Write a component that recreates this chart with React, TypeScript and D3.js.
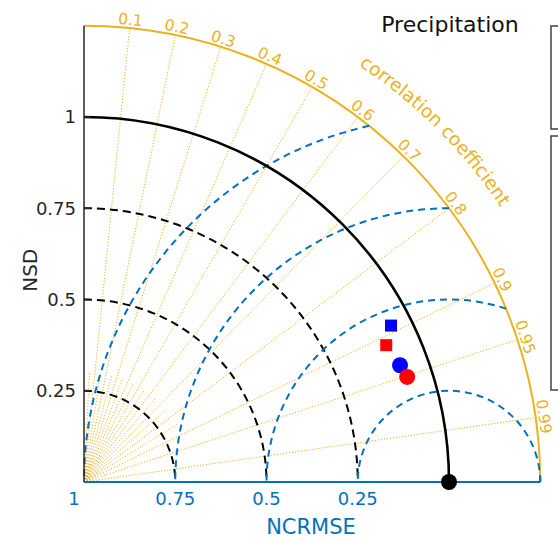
import React from "react";
import * as d3 from "d3";

// ---------- data ----------
const title = "Precipitation";
const corrMajor = [0.1, 0.2, 0.3, 0.4, 0.5, 0.6, 0.7, 0.8, 0.9, 0.95, 0.99];
const corrLabels = ["0.1", "0.2", "0.3", "0.4", "0.5", "0.6", "0.7", "0.8", "0.9", "0.95", "0.99"];
const corrMinor = [0.05, 0.15, 0.25, 0.35, 0.45, 0.55, 0.65, 0.75, 0.85];
const sdTicks = [0.25, 0.5, 0.75, 1];
const sdTickLabels = ["0.25", "0.5", "0.75", "1"];
const sdDashedArcs = [0.25, 0.5, 0.75];
const refSD = 1;
const sdMax = 1.25;
const rmseCircles = [0.25, 0.5, 0.75, 1];
const rmseTickLabels = ["0.25", "0.5", "0.75", "1"];
const seriesNames = ["Model A (square)", "Model B (square)", "Model A (circle)", "Model B (circle)"];
const seriesSD = [0.944, 0.909, 0.923, 0.931];
const seriesCorr = [0.891, 0.911, 0.938, 0.951];
const seriesShape = ["square", "square", "circle", "circle"];
const seriesColor = ["#0000ff", "#ff0000", "#0000ff", "#ff0000"];

// ---------- layout ----------
const W = 558, H = 542;
const X0 = 84, Y0 = 482;
const ORANGE = "#EDB120";
const BLUE = "#0072BD";
const DARK = "#262626";
const FONT = "'DejaVu Sans', Verdana, sans-serif";

const r = d3.scaleLinear().domain([0, sdMax]).range([0, 456.25]);
const pt = (sd: number, c: number): [number, number] => [
  X0 + r(sd) * c,
  Y0 - r(sd) * Math.sqrt(1 - c * c),
];

const quarterArc = (sd: number) => {
  const p = d3.path();
  p.moveTo(X0, Y0 - r(sd));
  p.arc(X0, Y0, r(sd), -Math.PI / 2, 0, false);
  return p.toString();
};

const rmseArc = (R: number) => {
  const cx = X0 + r(refSD);
  const cosMin = Math.max(-1, Math.min(1, (sdMax * sdMax - refSD * refSD - R * R) / (2 * R * refSD)));
  const phiMin = Math.acos(cosMin);
  const rr = r(R);
  const p = d3.path();
  p.moveTo(cx + rr * Math.cos(phiMin), Y0 - rr * Math.sin(phiMin));
  p.arc(cx, Y0, rr, -phiMin, -Math.PI, true);
  return p.toString();
};

const labelPath = (() => {
  const Rt = 499;
  const a0 = (80 * Math.PI) / 180, a1 = (10 * Math.PI) / 180;
  const p = d3.path();
  p.moveTo(X0 + Rt * Math.cos(a0), Y0 - Rt * Math.sin(a0));
  p.arc(X0, Y0, Rt, -a0, -a1, false);
  return p.toString();
})();

export default function App() {
  const rOut = r(sdMax);
  return (
    <svg
      width={W}
      height={H}
      viewBox={`0 0 ${W} ${H}`}
      style={{ position: "absolute", left: 0, top: 0, background: "#fff" }}
      fontFamily={FONT}
    >
      {/* minor correlation lines */}
      {corrMinor.map((c) => {
        const [x, y] = pt(0.3, c);
        return (
          <line key={"mn" + c} x1={X0} y1={Y0} x2={x} y2={y} stroke={ORANGE} strokeWidth={0.9} strokeDasharray="1.2,1.8" />
        );
      })}
      {/* major correlation lines */}
      {corrMajor.map((c) => {
        const [x, y] = pt(sdMax, c);
        return (
          <line key={"mj" + c} x1={X0} y1={Y0} x2={x} y2={y} stroke={ORANGE} strokeWidth={1} strokeDasharray="1.2,1.8" />
        );
      })}
      {/* outer arc */}
      <path d={quarterArc(sdMax)} fill="none" stroke={ORANGE} strokeWidth={2} />
      {/* correlation labels */}
      {corrMajor.map((c, i) => {
        const th = Math.acos(c);
        const rr = rOut + 3;
        const x = X0 + rr * Math.cos(th);
        const y = Y0 - rr * Math.sin(th);
        const rot = 90 - (th * 180) / Math.PI;
        return (
          <text key={"cl" + c} transform={`translate(${x},${y}) rotate(${rot})`} textAnchor="middle" fontSize={15.5} fill={ORANGE}>
            {corrLabels[i]}
          </text>
        );
      })}
      <path id="corrLabelPath" d={labelPath} fill="none" stroke="none" />
      <text fontSize={18.5} fill={ORANGE}>
        <textPath href="#corrLabelPath" startOffset="50%" textAnchor="middle">
          correlation coefficient
        </textPath>
      </text>
      {/* SD dashed arcs */}
      {sdDashedArcs.map((s) => (
        <path key={"sd" + s} d={quarterArc(s)} fill="none" stroke="#000" strokeWidth={2} strokeDasharray="8,5" />
      ))}
      {/* RMSE circles */}
      {rmseCircles.map((R) => (
        <path key={"rm" + R} d={rmseArc(R)} fill="none" stroke={BLUE} strokeWidth={2} strokeDasharray="7,5" />
      ))}
      {/* reference SD arc */}
      <path d={quarterArc(refSD)} fill="none" stroke="#000" strokeWidth={2.6} />
      {/* left axis */}
      <line x1={X0} y1={Y0} x2={X0} y2={Y0 - rOut} stroke={DARK} strokeWidth={1.5} />
      {sdTicks.map((t, i) => (
        <g key={"yt" + t}>
          <line x1={X0} x2={X0 + 6} y1={Y0 - r(t)} y2={Y0 - r(t)} stroke={DARK} strokeWidth={1.5} />
          <text x={X0 - 8} y={Y0 - r(t)} dy="0.35em" textAnchor="end" fontSize={18} fill={DARK}>
            {sdTickLabels[i]}
          </text>
        </g>
      ))}
      <text transform={`translate(30,${Y0 - r(0.58)}) rotate(-90)`} textAnchor="middle" dy="0.35em" fontSize={20} fill={DARK}>
        NSD
      </text>
      {/* bottom axis */}
      <line x1={X0} y1={Y0} x2={X0 + rOut} y2={Y0} stroke={BLUE} strokeWidth={2} />
      <line x1={X0 + rOut} y1={Y0} x2={X0 + rOut} y2={Y0 - 6} stroke={BLUE} strokeWidth={2} />
      {rmseCircles.map((R, i) => {
        const x = X0 + r(refSD) - r(R);
        return (
          <text key={"xt" + R} x={R === refSD ? x - 10 : x} y={505} textAnchor="middle" fontSize={18} fill={BLUE}>
            {rmseTickLabels[i]}
          </text>
        );
      })}
      <text x={311} y={534} textAnchor="middle" fontSize={21} fill={BLUE}>
        NCRMSE
      </text>
      {/* title */}
      <text x={450} y={32} textAnchor="middle" fontSize={22} fill="#111">
        {title}
      </text>
      {/* legend boxes (clipped at the right edge) */}
      <rect x={551} y={26} width={20} height={103} fill="#fff" stroke="#404040" strokeWidth={1.5} />
      <rect x={551} y={136} width={20} height={254} fill="#fff" stroke="#404040" strokeWidth={1.5} />
      {/* reference point */}
      <circle cx={X0 + r(refSD)} cy={Y0} r={8} fill="#000" />
      {/* series points */}
      {seriesNames.map((n, i) => {
        const [x, y] = pt(seriesSD[i], seriesCorr[i]);
        return seriesShape[i] === "square" ? (
          <rect key={n} x={x - 6} y={y - 6} width={12} height={12} fill={seriesColor[i]} />
        ) : (
          <circle key={n} cx={x} cy={y} r={8} fill={seriesColor[i]} />
        );
      })}
    </svg>
  );
}
